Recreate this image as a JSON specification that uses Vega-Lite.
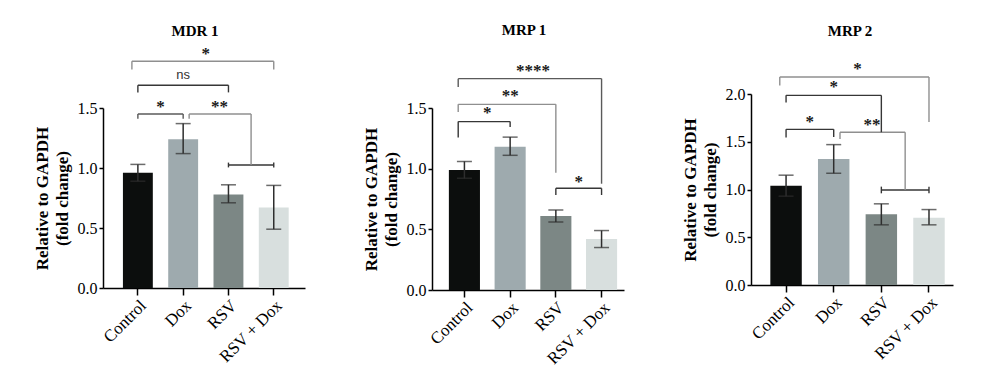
{
  "$schema": "https://vega.github.io/schema/vega-lite/v6.json",
  "padding": {"left": 33, "top": 22, "right": 5, "bottom": 5},
  "background": "white",
  "config": {"view": {"stroke": null}, "axis": {"grid": false}, "font": "Liberation Serif"},
  "datasets": {
    "bars": [
      {"p": "MDR1", "g": "Control", "v": 0.96, "lo": 0.89, "hi": 1.03},
      {"p": "MDR1", "g": "Dox", "v": 1.24, "lo": 1.12, "hi": 1.37},
      {"p": "MDR1", "g": "RSV", "v": 0.78, "lo": 0.71, "hi": 0.86},
      {"p": "MDR1", "g": "RSV + Dox", "v": 0.67, "lo": 0.49, "hi": 0.855},
      {"p": "MRP1", "g": "Control", "v": 0.99, "lo": 0.92, "hi": 1.06},
      {"p": "MRP1", "g": "Dox", "v": 1.18, "lo": 1.11, "hi": 1.26},
      {"p": "MRP1", "g": "RSV", "v": 0.61, "lo": 0.56, "hi": 0.66},
      {"p": "MRP1", "g": "RSV + Dox", "v": 0.42, "lo": 0.35, "hi": 0.49},
      {"p": "MRP2", "g": "Control", "v": 1.04, "lo": 0.93, "hi": 1.15},
      {"p": "MRP2", "g": "Dox", "v": 1.32, "lo": 1.17, "hi": 1.47},
      {"p": "MRP2", "g": "RSV", "v": 0.74, "lo": 0.63, "hi": 0.85},
      {"p": "MRP2", "g": "RSV + Dox", "v": 0.705, "lo": 0.63, "hi": 0.79}
    ],
    "h": [
      {"p": "MDR1", "k": "lc", "a": "Control", "b": "RSV + Dox", "y": 1.89, "t": "gray"},
      {"p": "MDR1", "k": "cc", "a": "Control", "b": "RSV", "y": 1.69, "t": "dark"},
      {"p": "MDR1", "k": "cc", "a": "Control", "b": "Dox", "y": 1.45, "t": "mid"},
      {"p": "MDR1", "k": "rm", "a": "Dox", "b": "RSV + Dox", "y": 1.45, "t": "gray"},
      {"p": "MDR1", "k": "cc", "a": "RSV", "b": "RSV + Dox", "y": 1.025, "t": "dark"},
      {"p": "MRP1", "k": "lc", "a": "Control", "b": "RSV + Dox", "y": 1.742, "t": "mid"},
      {"p": "MRP1", "k": "lc", "a": "Control", "b": "RSV", "y": 1.53, "t": "gray"},
      {"p": "MRP1", "k": "lc", "a": "Control", "b": "Dox", "y": 1.388, "t": "dark"},
      {"p": "MRP1", "k": "cc", "a": "RSV", "b": "RSV + Dox", "y": 0.838, "t": "dark"},
      {"p": "MRP2", "k": "lc", "a": "Control", "b": "RSV + Dox", "y": 2.178, "t": "gray"},
      {"p": "MRP2", "k": "cc", "a": "Control", "b": "RSV", "y": 1.986, "t": "dark"},
      {"p": "MRP2", "k": "cc", "a": "Control", "b": "Dox", "y": 1.63, "t": "dark"},
      {"p": "MRP2", "k": "rm", "a": "Dox", "b": "RSV + Dox", "y": 1.6, "t": "gray"},
      {"p": "MRP2", "k": "cc", "a": "RSV", "b": "RSV + Dox", "y": 0.995, "t": "dark"}
    ],
    "v": [
      {"p": "MDR1", "k": "l", "a": "Control", "y": 1.89, "y2": 1.82, "t": "gray"},
      {"p": "MDR1", "k": "c", "a": "RSV + Dox", "y": 1.89, "y2": 1.82, "t": "gray"},
      {"p": "MDR1", "k": "c", "a": "Control", "y": 1.69, "y2": 1.63, "t": "dark"},
      {"p": "MDR1", "k": "c", "a": "RSV", "y": 1.69, "y2": 1.63, "t": "dark"},
      {"p": "MDR1", "k": "c", "a": "Control", "y": 1.45, "y2": 1.41, "t": "mid"},
      {"p": "MDR1", "k": "c", "a": "Dox", "y": 1.45, "y2": 1.41, "t": "mid"},
      {"p": "MDR1", "k": "r", "a": "Dox", "y": 1.45, "y2": 1.41, "t": "gray"},
      {"p": "MDR1", "k": "m", "a": "RSV + Dox", "y": 1.45, "y2": 1.025, "t": "gray"},
      {"p": "MDR1", "k": "c", "a": "RSV", "y": 1.005, "y2": 1.045, "t": "dark"},
      {"p": "MDR1", "k": "c", "a": "RSV + Dox", "y": 1.005, "y2": 1.045, "t": "dark"},
      {"p": "MRP1", "k": "l", "a": "Control", "y": 1.742, "y2": 1.674, "t": "mid"},
      {"p": "MRP1", "k": "c", "a": "RSV + Dox", "y": 1.742, "y2": 0.876, "t": "mid"},
      {"p": "MRP1", "k": "l", "a": "Control", "y": 1.53, "y2": 1.467, "t": "gray"},
      {"p": "MRP1", "k": "c", "a": "RSV", "y": 1.53, "y2": 0.967, "t": "gray"},
      {"p": "MRP1", "k": "l", "a": "Control", "y": 1.388, "y2": 1.256, "t": "dark"},
      {"p": "MRP1", "k": "c", "a": "Dox", "y": 1.388, "y2": 1.344, "t": "dark"},
      {"p": "MRP1", "k": "c", "a": "RSV", "y": 0.838, "y2": 0.783, "t": "dark"},
      {"p": "MRP1", "k": "c", "a": "RSV + Dox", "y": 0.838, "y2": 0.783, "t": "dark"},
      {"p": "MRP2", "k": "l", "a": "Control", "y": 2.178, "y2": 2.09, "t": "gray"},
      {"p": "MRP2", "k": "c", "a": "RSV + Dox", "y": 2.178, "y2": 1.707, "t": "gray"},
      {"p": "MRP2", "k": "c", "a": "Control", "y": 1.986, "y2": 1.91, "t": "dark"},
      {"p": "MRP2", "k": "c", "a": "RSV", "y": 1.986, "y2": 1.6, "t": "dark"},
      {"p": "MRP2", "k": "c", "a": "Control", "y": 1.63, "y2": 1.545, "t": "dark"},
      {"p": "MRP2", "k": "c", "a": "Dox", "y": 1.63, "y2": 1.55, "t": "dark"},
      {"p": "MRP2", "k": "r", "a": "Dox", "y": 1.6, "y2": 1.53, "t": "gray"},
      {"p": "MRP2", "k": "m", "a": "RSV + Dox", "y": 1.6, "y2": 0.995, "t": "gray"},
      {"p": "MRP2", "k": "c", "a": "RSV", "y": 0.96, "y2": 1.03, "t": "dark"},
      {"p": "MRP2", "k": "c", "a": "RSV + Dox", "y": 0.96, "y2": 1.03, "t": "dark"}
    ],
    "lab": [
      {"p": "MDR1", "k": "m", "at": "RSV", "s": "*", "y": 1.95},
      {"p": "MDR1", "k": "ns", "at": "Dox", "s": "ns", "y": 1.775},
      {"p": "MDR1", "k": "m", "at": "Dox", "s": "*", "y": 1.51},
      {"p": "MDR1", "k": "o", "at": "RSV", "s": "**", "y": 1.51},
      {"p": "MRP1", "k": "m", "at": "RSV", "s": "****", "y": 1.808},
      {"p": "MRP1", "k": "c", "at": "Dox", "s": "**", "y": 1.602},
      {"p": "MRP1", "k": "m", "at": "Dox", "s": "*", "y": 1.456},
      {"p": "MRP1", "k": "m", "at": "RSV + Dox", "s": "*", "y": 0.893},
      {"p": "MRP2", "k": "m", "at": "RSV", "s": "*", "y": 2.262},
      {"p": "MRP2", "k": "c", "at": "Dox", "s": "*", "y": 2.07},
      {"p": "MRP2", "k": "m", "at": "Dox", "s": "*", "y": 1.704},
      {"p": "MRP2", "k": "o", "at": "RSV", "s": "**", "y": 1.68}
    ]
  },
  "columns": 3,
  "align": "none",
  "spacing": 57,
  "concat": [
    {
      "width": 202, "height": 194,
      "title": {"text": "MDR 1", "font": "Liberation Serif", "fontSize": 15, "fontWeight": "bold", "color": "black", "frame": "group", "anchor": "middle", "offset": 6, "dx": -9},
      "resolve": {"scale": {"color": "independent"}},
      "layer": [
        {"data": {"name": "bars"}, "transform": [{"filter": "datum.p === 'MDR1'"}],
         "mark": {"type": "bar"},
         "encoding": {
           "x": {"field": "g", "type": "nominal", "title": null, "scale": {"domain": ["Control", "Dox", "RSV", "RSV + Dox"], "paddingInner": 0.34, "paddingOuter": 0.4, "align": 0.55},
                 "axis": {"labelAngle": -45, "labelFont": "Liberation Serif", "labelFontSize": 17, "labelColor": "black", "domainColor": "black", "domainWidth": 1.5, "tickColor": "black", "tickWidth": 1.5, "tickSize": 7, "labelPadding": 2}},
           "y": {"field": "v", "type": "quantitative", "title": ["Relative to GAPDH", "(fold change)"], "scale": {"domain": [0, 1.5], "range": [194, 14], "nice": false},
                 "axis": {"values": [0, 0.5, 1, 1.5], "format": ".1f", "titleFont": "Liberation Serif", "titleFontSize": 17, "titleFontWeight": "bold", "titleColor": "black", "titleLineHeight": 20, "titlePadding": 6, "labelFont": "Liberation Serif", "labelFontSize": 16, "labelColor": "black", "labelPadding": 2, "tickSize": 4, "tickColor": "black", "tickWidth": 1.5, "domainColor": "black", "domainWidth": 1.5}},
           "color": {"field": "g", "type": "nominal", "scale": {"domain": ["Control", "Dox", "RSV", "RSV + Dox"], "range": ["#0c0e0d", "#9eaaae", "#7c8785", "#d8dfde"]}, "legend": null}
         }},
        {"data": {"name": "bars"}, "transform": [{"filter": "datum.p === 'MDR1'"}],
         "mark": {"type": "errorbar", "ticks": {"size": 15}, "color": "#2e2e2e", "thickness": 1.5},
         "encoding": {"x": {"field": "g", "type": "nominal", "title": null}, "y": {"field": "lo", "type": "quantitative", "title": ["Relative to GAPDH", "(fold change)"]}, "y2": {"field": "hi"}}},
        {"data": {"name": "h"}, "transform": [{"filter": "datum.p === 'MDR1' && datum.k === 'cc'"}],
         "mark": {"type": "rule", "strokeWidth": 1.4},
         "encoding": {"x": {"field": "a", "type": "nominal", "title": null, "bandPosition": 0.5}, "x2": {"field": "b", "bandPosition": 0.5}, "y": {"field": "y", "type": "quantitative"},
                      "color": {"field": "t", "type": "nominal", "scale": {"domain": ["dark", "mid", "gray"], "range": ["#363636", "#5a5a5a", "#8f8f8f"]}, "legend": null}}},
        {"data": {"name": "h"}, "transform": [{"filter": "datum.p === 'MDR1' && datum.k === 'lc'"}],
         "mark": {"type": "rule", "strokeWidth": 1.4},
         "encoding": {"x": {"field": "a", "type": "nominal", "title": null, "bandPosition": 0.3}, "x2": {"field": "b", "bandPosition": 0.5}, "y": {"field": "y", "type": "quantitative"},
                      "color": {"field": "t", "type": "nominal", "scale": {"domain": ["dark", "mid", "gray"], "range": ["#363636", "#5a5a5a", "#8f8f8f"]}, "legend": null}}},
        {"data": {"name": "h"}, "transform": [{"filter": "datum.p === 'MDR1' && datum.k === 'rm'"}],
         "mark": {"type": "rule", "strokeWidth": 1.4},
         "encoding": {"x": {"field": "a", "type": "nominal", "title": null, "bandPosition": 0.7}, "x2": {"field": "b", "bandPosition": -0.258}, "y": {"field": "y", "type": "quantitative"},
                      "color": {"field": "t", "type": "nominal", "scale": {"domain": ["dark", "mid", "gray"], "range": ["#363636", "#5a5a5a", "#8f8f8f"]}, "legend": null}}},
        {"data": {"name": "v"}, "transform": [{"filter": "datum.p === 'MDR1' && datum.k === 'c'"}],
         "mark": {"type": "rule", "strokeWidth": 1.4},
         "encoding": {"x": {"field": "a", "type": "nominal", "title": null, "bandPosition": 0.5}, "y": {"field": "y", "type": "quantitative"}, "y2": {"field": "y2"},
                      "color": {"field": "t", "type": "nominal", "scale": {"domain": ["dark", "mid", "gray"], "range": ["#363636", "#5a5a5a", "#8f8f8f"]}, "legend": null}}},
        {"data": {"name": "v"}, "transform": [{"filter": "datum.p === 'MDR1' && datum.k === 'l'"}],
         "mark": {"type": "rule", "strokeWidth": 1.4},
         "encoding": {"x": {"field": "a", "type": "nominal", "title": null, "bandPosition": 0.3}, "y": {"field": "y", "type": "quantitative"}, "y2": {"field": "y2"},
                      "color": {"field": "t", "type": "nominal", "scale": {"domain": ["dark", "mid", "gray"], "range": ["#363636", "#5a5a5a", "#8f8f8f"]}, "legend": null}}},
        {"data": {"name": "v"}, "transform": [{"filter": "datum.p === 'MDR1' && datum.k === 'r'"}],
         "mark": {"type": "rule", "strokeWidth": 1.4},
         "encoding": {"x": {"field": "a", "type": "nominal", "title": null, "bandPosition": 0.7}, "y": {"field": "y", "type": "quantitative"}, "y2": {"field": "y2"},
                      "color": {"field": "t", "type": "nominal", "scale": {"domain": ["dark", "mid", "gray"], "range": ["#363636", "#5a5a5a", "#8f8f8f"]}, "legend": null}}},
        {"data": {"name": "v"}, "transform": [{"filter": "datum.p === 'MDR1' && datum.k === 'm'"}],
         "mark": {"type": "rule", "strokeWidth": 1.4},
         "encoding": {"x": {"field": "a", "type": "nominal", "title": null, "bandPosition": -0.258}, "y": {"field": "y", "type": "quantitative"}, "y2": {"field": "y2"},
                      "color": {"field": "t", "type": "nominal", "scale": {"domain": ["dark", "mid", "gray"], "range": ["#363636", "#5a5a5a", "#8f8f8f"]}, "legend": null}}},
        {"data": {"name": "lab"}, "transform": [{"filter": "datum.p === 'MDR1' && datum.k === 'c'"}],
         "mark": {"type": "text", "font": "Liberation Serif", "fontWeight": "bold", "fontSize": 17, "baseline": "middle", "color": "#1a1a1a"},
         "encoding": {"x": {"field": "at", "type": "nominal", "title": null, "bandPosition": 0.5}, "y": {"field": "y", "type": "quantitative"}, "text": {"field": "s"}}},
        {"data": {"name": "lab"}, "transform": [{"filter": "datum.p === 'MDR1' && datum.k === 'm'"}],
         "mark": {"type": "text", "font": "Liberation Serif", "fontWeight": "bold", "fontSize": 17, "baseline": "middle", "color": "#1a1a1a"},
         "encoding": {"x": {"field": "at", "type": "nominal", "title": null, "bandPosition": -0.258}, "y": {"field": "y", "type": "quantitative"}, "text": {"field": "s"}}},
        {"data": {"name": "lab"}, "transform": [{"filter": "datum.p === 'MDR1' && datum.k === 'o'"}],
         "mark": {"type": "text", "font": "Liberation Serif", "fontWeight": "bold", "fontSize": 17, "baseline": "middle", "color": "#1a1a1a"},
         "encoding": {"x": {"field": "at", "type": "nominal", "title": null, "bandPosition": 0.2}, "y": {"field": "y", "type": "quantitative"}, "text": {"field": "s"}}},
        {"data": {"name": "lab"}, "transform": [{"filter": "datum.p === 'MDR1' && datum.k === 'ns'"}],
         "mark": {"type": "text", "font": "Liberation Sans", "fontSize": 13, "baseline": "middle", "color": "#333333"},
         "encoding": {"x": {"field": "at", "type": "nominal", "title": null, "bandPosition": 0.5}, "y": {"field": "y", "type": "quantitative"}, "text": {"field": "s"}}}
      ]
    },
    {
      "width": 192, "height": 196,
      "title": {"text": "MRP 1", "font": "Liberation Serif", "fontSize": 15, "fontWeight": "bold", "color": "black", "frame": "group", "anchor": "middle", "offset": 24, "dx": -4},
      "resolve": {"scale": {"color": "independent"}},
      "layer": [
        {"data": {"name": "bars"}, "transform": [{"filter": "datum.p === 'MRP1'"}],
         "mark": {"type": "bar"},
         "encoding": {
           "x": {"field": "g", "type": "nominal", "title": null, "scale": {"domain": ["Control", "Dox", "RSV", "RSV + Dox"], "paddingInner": 0.32, "paddingOuter": 0.26, "align": 0.71},
                 "axis": {"labelAngle": -45, "labelFont": "Liberation Serif", "labelFontSize": 17, "labelColor": "black", "domainColor": "black", "domainWidth": 1.5, "tickColor": "black", "tickWidth": 1.5, "tickSize": 7, "labelPadding": 2}},
           "y": {"field": "v", "type": "quantitative", "title": ["Relative to GAPDH", "(fold change)"], "scale": {"domain": [0, 1.5], "range": [196, 14], "nice": false},
                 "axis": {"values": [0, 0.5, 1, 1.5], "format": ".1f", "titleFont": "Liberation Serif", "titleFontSize": 17, "titleFontWeight": "bold", "titleColor": "black", "titleLineHeight": 20, "titlePadding": 6, "labelFont": "Liberation Serif", "labelFontSize": 16, "labelColor": "black", "labelPadding": 2, "tickSize": 4, "tickColor": "black", "tickWidth": 1.5, "domainColor": "black", "domainWidth": 1.5}},
           "color": {"field": "g", "type": "nominal", "scale": {"domain": ["Control", "Dox", "RSV", "RSV + Dox"], "range": ["#0c0e0d", "#9eaaae", "#7c8785", "#d8dfde"]}, "legend": null}
         }},
        {"data": {"name": "bars"}, "transform": [{"filter": "datum.p === 'MRP1'"}],
         "mark": {"type": "errorbar", "ticks": {"size": 15}, "color": "#2e2e2e", "thickness": 1.5},
         "encoding": {"x": {"field": "g", "type": "nominal", "title": null}, "y": {"field": "lo", "type": "quantitative", "title": ["Relative to GAPDH", "(fold change)"]}, "y2": {"field": "hi"}}},
        {"data": {"name": "h"}, "transform": [{"filter": "datum.p === 'MRP1' && datum.k === 'cc'"}],
         "mark": {"type": "rule", "strokeWidth": 1.4},
         "encoding": {"x": {"field": "a", "type": "nominal", "title": null, "bandPosition": 0.5}, "x2": {"field": "b", "bandPosition": 0.5}, "y": {"field": "y", "type": "quantitative"},
                      "color": {"field": "t", "type": "nominal", "scale": {"domain": ["dark", "mid", "gray"], "range": ["#363636", "#5a5a5a", "#8f8f8f"]}, "legend": null}}},
        {"data": {"name": "h"}, "transform": [{"filter": "datum.p === 'MRP1' && datum.k === 'lc'"}],
         "mark": {"type": "rule", "strokeWidth": 1.4},
         "encoding": {"x": {"field": "a", "type": "nominal", "title": null, "bandPosition": 0.3}, "x2": {"field": "b", "bandPosition": 0.5}, "y": {"field": "y", "type": "quantitative"},
                      "color": {"field": "t", "type": "nominal", "scale": {"domain": ["dark", "mid", "gray"], "range": ["#363636", "#5a5a5a", "#8f8f8f"]}, "legend": null}}},
        {"data": {"name": "v"}, "transform": [{"filter": "datum.p === 'MRP1' && datum.k === 'c'"}],
         "mark": {"type": "rule", "strokeWidth": 1.4},
         "encoding": {"x": {"field": "a", "type": "nominal", "title": null, "bandPosition": 0.5}, "y": {"field": "y", "type": "quantitative"}, "y2": {"field": "y2"},
                      "color": {"field": "t", "type": "nominal", "scale": {"domain": ["dark", "mid", "gray"], "range": ["#363636", "#5a5a5a", "#8f8f8f"]}, "legend": null}}},
        {"data": {"name": "v"}, "transform": [{"filter": "datum.p === 'MRP1' && datum.k === 'l'"}],
         "mark": {"type": "rule", "strokeWidth": 1.4},
         "encoding": {"x": {"field": "a", "type": "nominal", "title": null, "bandPosition": 0.3}, "y": {"field": "y", "type": "quantitative"}, "y2": {"field": "y2"},
                      "color": {"field": "t", "type": "nominal", "scale": {"domain": ["dark", "mid", "gray"], "range": ["#363636", "#5a5a5a", "#8f8f8f"]}, "legend": null}}},
        {"data": {"name": "lab"}, "transform": [{"filter": "datum.p === 'MRP1' && datum.k === 'c'"}],
         "mark": {"type": "text", "font": "Liberation Serif", "fontWeight": "bold", "fontSize": 17, "baseline": "middle", "color": "#1a1a1a"},
         "encoding": {"x": {"field": "at", "type": "nominal", "title": null, "bandPosition": 0.5}, "y": {"field": "y", "type": "quantitative"}, "text": {"field": "s"}}},
        {"data": {"name": "lab"}, "transform": [{"filter": "datum.p === 'MRP1' && datum.k === 'm'"}],
         "mark": {"type": "text", "font": "Liberation Serif", "fontWeight": "bold", "fontSize": 17, "baseline": "middle", "color": "#1a1a1a"},
         "encoding": {"x": {"field": "at", "type": "nominal", "title": null, "bandPosition": -0.235}, "y": {"field": "y", "type": "quantitative"}, "text": {"field": "s"}}}
      ]
    },
    {
      "width": 202, "height": 191,
      "title": {"text": "MRP 2", "font": "Liberation Serif", "fontSize": 15, "fontWeight": "bold", "color": "black", "frame": "group", "anchor": "middle", "offset": 21, "dx": -2},
      "resolve": {"scale": {"color": "independent"}},
      "layer": [
        {"data": {"name": "bars"}, "transform": [{"filter": "datum.p === 'MRP2'"}],
         "mark": {"type": "bar"},
         "encoding": {
           "x": {"field": "g", "type": "nominal", "title": null, "scale": {"domain": ["Control", "Dox", "RSV", "RSV + Dox"], "paddingInner": 0.34, "paddingOuter": 0.29, "align": 0.7},
                 "axis": {"labelAngle": -45, "labelFont": "Liberation Serif", "labelFontSize": 17, "labelColor": "black", "domainColor": "black", "domainWidth": 1.5, "tickColor": "black", "tickWidth": 1.5, "tickSize": 7, "labelPadding": 2}},
           "y": {"field": "v", "type": "quantitative", "title": ["Relative to GAPDH", "(fold change)"], "scale": {"domain": [0, 2], "range": [191, 0], "nice": false},
                 "axis": {"values": [0, 0.5, 1, 1.5, 2], "format": ".1f", "titleFont": "Liberation Serif", "titleFontSize": 17, "titleFontWeight": "bold", "titleColor": "black", "titleLineHeight": 20, "titlePadding": 6, "labelFont": "Liberation Serif", "labelFontSize": 16, "labelColor": "black", "labelPadding": 2, "tickSize": 4, "tickColor": "black", "tickWidth": 1.5, "domainColor": "black", "domainWidth": 1.5}},
           "color": {"field": "g", "type": "nominal", "scale": {"domain": ["Control", "Dox", "RSV", "RSV + Dox"], "range": ["#0c0e0d", "#9eaaae", "#7c8785", "#d8dfde"]}, "legend": null}
         }},
        {"data": {"name": "bars"}, "transform": [{"filter": "datum.p === 'MRP2'"}],
         "mark": {"type": "errorbar", "ticks": {"size": 15}, "color": "#2e2e2e", "thickness": 1.5},
         "encoding": {"x": {"field": "g", "type": "nominal", "title": null}, "y": {"field": "lo", "type": "quantitative", "title": ["Relative to GAPDH", "(fold change)"]}, "y2": {"field": "hi"}}},
        {"data": {"name": "h"}, "transform": [{"filter": "datum.p === 'MRP2' && datum.k === 'cc'"}],
         "mark": {"type": "rule", "strokeWidth": 1.4},
         "encoding": {"x": {"field": "a", "type": "nominal", "title": null, "bandPosition": 0.5}, "x2": {"field": "b", "bandPosition": 0.5}, "y": {"field": "y", "type": "quantitative"},
                      "color": {"field": "t", "type": "nominal", "scale": {"domain": ["dark", "mid", "gray"], "range": ["#363636", "#5a5a5a", "#8f8f8f"]}, "legend": null}}},
        {"data": {"name": "h"}, "transform": [{"filter": "datum.p === 'MRP2' && datum.k === 'lc'"}],
         "mark": {"type": "rule", "strokeWidth": 1.4},
         "encoding": {"x": {"field": "a", "type": "nominal", "title": null, "bandPosition": 0.3}, "x2": {"field": "b", "bandPosition": 0.5}, "y": {"field": "y", "type": "quantitative"},
                      "color": {"field": "t", "type": "nominal", "scale": {"domain": ["dark", "mid", "gray"], "range": ["#363636", "#5a5a5a", "#8f8f8f"]}, "legend": null}}},
        {"data": {"name": "h"}, "transform": [{"filter": "datum.p === 'MRP2' && datum.k === 'rm'"}],
         "mark": {"type": "rule", "strokeWidth": 1.4},
         "encoding": {"x": {"field": "a", "type": "nominal", "title": null, "bandPosition": 0.7}, "x2": {"field": "b", "bandPosition": -0.258}, "y": {"field": "y", "type": "quantitative"},
                      "color": {"field": "t", "type": "nominal", "scale": {"domain": ["dark", "mid", "gray"], "range": ["#363636", "#5a5a5a", "#8f8f8f"]}, "legend": null}}},
        {"data": {"name": "v"}, "transform": [{"filter": "datum.p === 'MRP2' && datum.k === 'c'"}],
         "mark": {"type": "rule", "strokeWidth": 1.4},
         "encoding": {"x": {"field": "a", "type": "nominal", "title": null, "bandPosition": 0.5}, "y": {"field": "y", "type": "quantitative"}, "y2": {"field": "y2"},
                      "color": {"field": "t", "type": "nominal", "scale": {"domain": ["dark", "mid", "gray"], "range": ["#363636", "#5a5a5a", "#8f8f8f"]}, "legend": null}}},
        {"data": {"name": "v"}, "transform": [{"filter": "datum.p === 'MRP2' && datum.k === 'l'"}],
         "mark": {"type": "rule", "strokeWidth": 1.4},
         "encoding": {"x": {"field": "a", "type": "nominal", "title": null, "bandPosition": 0.3}, "y": {"field": "y", "type": "quantitative"}, "y2": {"field": "y2"},
                      "color": {"field": "t", "type": "nominal", "scale": {"domain": ["dark", "mid", "gray"], "range": ["#363636", "#5a5a5a", "#8f8f8f"]}, "legend": null}}},
        {"data": {"name": "v"}, "transform": [{"filter": "datum.p === 'MRP2' && datum.k === 'r'"}],
         "mark": {"type": "rule", "strokeWidth": 1.4},
         "encoding": {"x": {"field": "a", "type": "nominal", "title": null, "bandPosition": 0.7}, "y": {"field": "y", "type": "quantitative"}, "y2": {"field": "y2"},
                      "color": {"field": "t", "type": "nominal", "scale": {"domain": ["dark", "mid", "gray"], "range": ["#363636", "#5a5a5a", "#8f8f8f"]}, "legend": null}}},
        {"data": {"name": "v"}, "transform": [{"filter": "datum.p === 'MRP2' && datum.k === 'm'"}],
         "mark": {"type": "rule", "strokeWidth": 1.4},
         "encoding": {"x": {"field": "a", "type": "nominal", "title": null, "bandPosition": -0.258}, "y": {"field": "y", "type": "quantitative"}, "y2": {"field": "y2"},
                      "color": {"field": "t", "type": "nominal", "scale": {"domain": ["dark", "mid", "gray"], "range": ["#363636", "#5a5a5a", "#8f8f8f"]}, "legend": null}}},
        {"data": {"name": "lab"}, "transform": [{"filter": "datum.p === 'MRP2' && datum.k === 'c'"}],
         "mark": {"type": "text", "font": "Liberation Serif", "fontWeight": "bold", "fontSize": 17, "baseline": "middle", "color": "#1a1a1a"},
         "encoding": {"x": {"field": "at", "type": "nominal", "title": null, "bandPosition": 0.5}, "y": {"field": "y", "type": "quantitative"}, "text": {"field": "s"}}},
        {"data": {"name": "lab"}, "transform": [{"filter": "datum.p === 'MRP2' && datum.k === 'm'"}],
         "mark": {"type": "text", "font": "Liberation Serif", "fontWeight": "bold", "fontSize": 17, "baseline": "middle", "color": "#1a1a1a"},
         "encoding": {"x": {"field": "at", "type": "nominal", "title": null, "bandPosition": -0.258}, "y": {"field": "y", "type": "quantitative"}, "text": {"field": "s"}}},
        {"data": {"name": "lab"}, "transform": [{"filter": "datum.p === 'MRP2' && datum.k === 'o'"}],
         "mark": {"type": "text", "font": "Liberation Serif", "fontWeight": "bold", "fontSize": 17, "baseline": "middle", "color": "#1a1a1a"},
         "encoding": {"x": {"field": "at", "type": "nominal", "title": null, "bandPosition": 0.2}, "y": {"field": "y", "type": "quantitative"}, "text": {"field": "s"}}}
      ]
    }
  ]
}
